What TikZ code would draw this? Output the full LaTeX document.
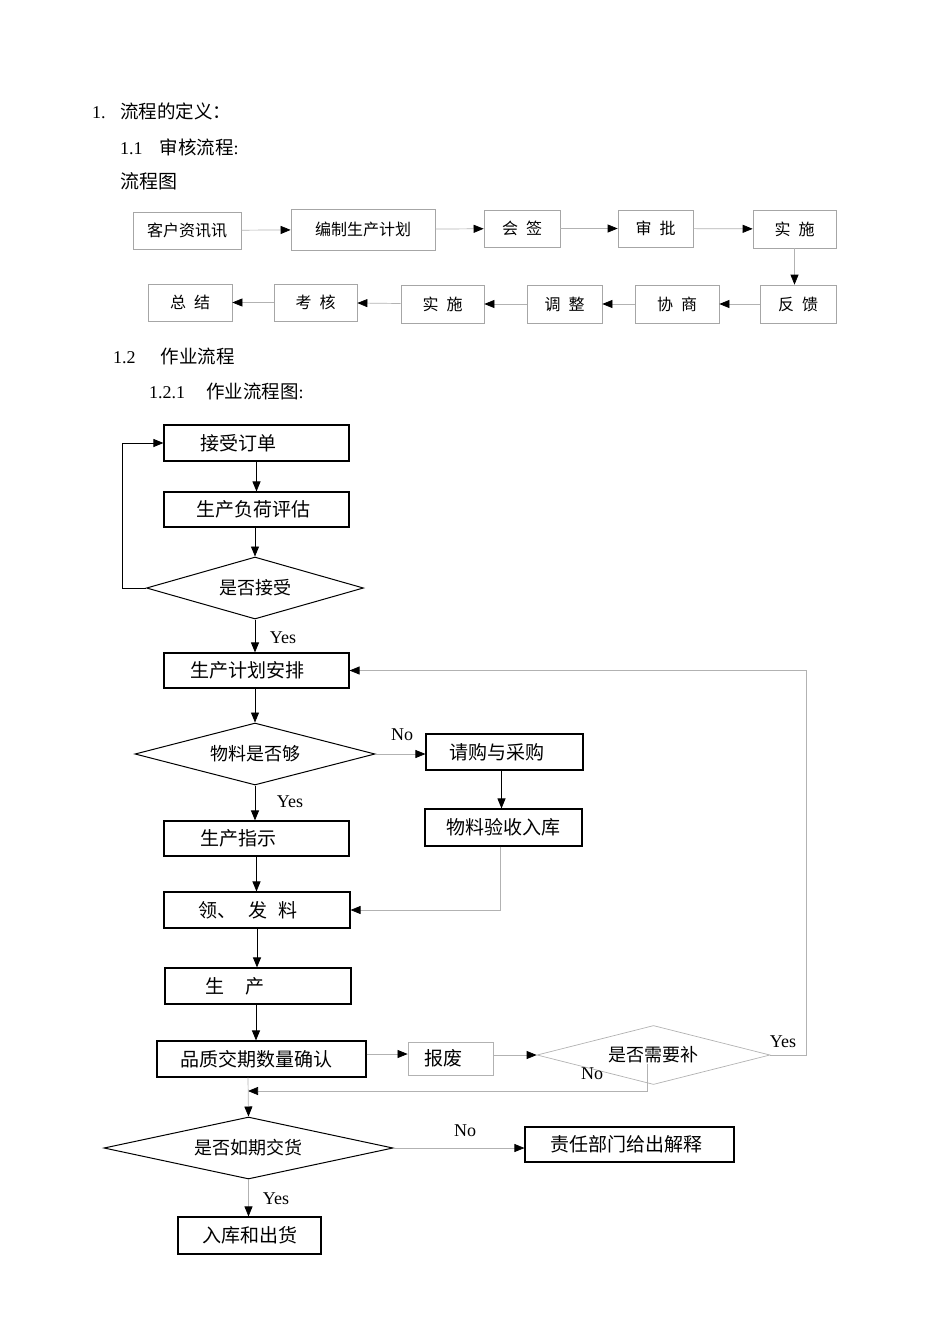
\documentclass[tikz,border=0pt]{standalone}
\usepackage{fontspec}
\setmainfont{Liberation Serif}
\newfontfamily\cjk{Noto Sans CJK SC}
\usepackage{tikz}
\usetikzlibrary{
	arrows.meta,shapes.geometric
}
\newcommand{\flowfont}[1]{\cjk\fontsize{#1}{#1}\selectfont}
\newcommand{\pad}[1]{\hbox to #1{}}
\tikzset{
	dims/.style 2 args={minimum width=#1,minimum height=#2},
	topbox/.style={draw=black!35,line width=0.7pt,inner sep=0pt,font={\flowfont{16}}},
	mainbox/.style={draw=black,line width=1.1pt,inner sep=0pt,font={\flowfont{19}}},
	scrapbox/.style={draw=black!30,line width=0.8pt,inner sep=0pt,font={\flowfont{19}}},
	choice/.style={diamond,aspect=3.4,draw=black,line width=1pt,inner sep=0pt,font={\flowfont{18}}},
	graychoice/.style={choice,draw=black!30,line width=0.7pt},
	blackline/.style={color=black,line width=0.9pt},
	grayline/.style={draw=black!30,line width=0.7pt},
	tip/.style={-{Triangle[length=10pt,width=8pt,color=black,fill=black]}},
	tag/.style={inner sep=0pt,font=\fontsize{18}{18}\selectfont},
	heading/.style={anchor=west,inner sep=0pt,font=\fontsize{18}{18}\selectfont}
}
\begin{document}
\begin{tikzpicture}[x=1pt,y=-1pt]
		\useasboundingbox (0,0) rectangle (950,1344);
		% headings
		\node[heading] (H1) at (92,111) {1.\hspace{14.5pt}{\flowfont{18.5}流程的定义：}};
		\node[heading] (H11) at (120,147) {1.1\hspace{17pt}{\flowfont{18.5}审核流程}:};
		\node[heading] (H11b) at (120,181) {{\flowfont{19}流程图}};
		\node[heading] (H12) at (113,356) {1.2\hspace{25pt}{\flowfont{18.5}作业流程}};
		\node[heading] (H121) at (149,391) {1.2.1\hspace{21pt}{\flowfont{18.5}作业流程图}:};
		%
		% review flow, first row
		\node[topbox,dims={108pt}{37pt}] (info) at (187,230.5) {客户资讯讯};
		\node[topbox,dims={144pt}{41pt}] (plan) at (363,229.5) {编制生产计划};
		\node[topbox,dims={76pt}{37pt}] (sign) at (522,228.5) {会\hspace{8pt}签};
		\node[topbox,dims={75pt}{37pt}] (approve) at (655.5,228.5) {审\hspace{8pt}批};
		\node[topbox,dims={83pt}{38pt}] (runA) at (794.5,229) {实\hspace{8pt}施};
		% review flow, second row
		\node[topbox,dims={76pt}{38pt}] (feedback) at (798,304) {反\hspace{8pt}馈};
		\node[topbox,dims={84pt}{38pt}] (consult) at (677,304) {协\hspace{8pt}商};
		\node[topbox,dims={75pt}{38pt}] (adjust) at (564.5,304) {调\hspace{8pt}整};
		\node[topbox,dims={83pt}{38pt}] (runB) at (442.5,304) {实\hspace{8pt}施};
		\node[topbox,dims={83pt}{37pt}] (assess) at (315.5,302.5) {考\hspace{8pt}核};
		\node[topbox,dims={84pt}{37pt}] (summary) at (190,302.5) {总\hspace{8pt}结};
		%
		\foreach \from/\to in {info/plan,plan/sign,sign/approve,approve/runA,
			feedback/consult,consult/adjust,adjust/runB,runB/assess,assess/summary}
			\draw[grayline,tip] (\from) -- (\to);
		\draw[grayline,tip] (runA.south) -- (runA.south |- feedback.north);
		%
		% work flow
		\node[mainbox,dims={185pt}{36pt}] (order) at (256.5,443) {接受订单\pad{36pt}};
		\node[mainbox,dims={185pt}{35pt}] (load) at (256.5,509.5) {生产负荷评估\pad{6pt}};
		\node[choice,dims={217pt}{62pt}] (accept) at (255,588) {是否接受};
		\node[mainbox,dims={185pt}{35pt}] (schedule) at (256.5,670.5) {生产计划安排\pad{19pt}};
		\node[choice,dims={240pt}{62pt}] (enough) at (255,754) {物料是否够};
		\node[mainbox,dims={157pt}{36pt}] (purchase) at (504.5,752) {请购与采购\pad{16pt}};
		\node[mainbox,dims={157pt}{37pt}] (inspect) at (503.5,827.5) {物料验收入库};
		\node[mainbox,dims={185pt}{35pt}] (instruct) at (256.5,838.5) {生产指示\pad{37pt}};
		\node[mainbox,dims={186pt}{36pt}] (issue) at (257,910) {领、\hspace{12pt}发\hspace{11pt}料\pad{18pt}};
		\node[mainbox,dims={186pt}{36pt}] (produce) at (258,986) {生\hspace{22pt}产\pad{46pt}};
		\node[mainbox,dims={209pt}{36pt}] (confirm) at (261.5,1059) {品质交期数量确认\pad{10pt}};
		\node[scrapbox,dims={85pt}{33pt}] (scrap) at (450.5,1058.5) {报废\pad{14pt}};
		\node[graychoice,dims={233pt}{59pt}] (refill) at (653.5,1055) {是否需要补};
		\node[choice,dims={289pt}{62pt}] (ontime) at (248.5,1148) {是否如期交货};
		\node[mainbox,dims={209pt}{35pt}] (explain) at (629.5,1144.5) {责任部门给出解释\pad{6pt}};
		\node[mainbox,dims={143pt}{37pt}] (stock) at (249.5,1235.5) {入库和出货};
		\coordinate (merge) at (248,1091);
		% branch labels
		\node[tag] (yesA) at (283,638) {Yes};
		\node[tag] (noB) at (402,735) {No};
		\node[tag] (yesB) at (290,802) {Yes};
		\node[tag] (yesC) at (783,1042) {Yes};
		\node[tag] (noC) at (592,1074) {No};
		\node[tag] (noD) at (465,1131) {No};
		\node[tag] (yesD) at (276,1199) {Yes};
		%
		\path[blackline,tip]
		% main line, downwards
		(order) edge (load)
		(accept.north |- load.south) edge (accept.north)
		(accept) edge (accept.south |- schedule.north)
		(enough.north |- schedule.south) edge (enough.north)
		(enough) edge (enough.south |- instruct.north)
		(instruct.south) edge (instruct.south |- issue.north)
		(issue.south) edge (issue.south |- produce.north)
		([xshift=-2pt]produce.south) edge ([xshift=-2pt]produce.south |- confirm.north)
		([xshift=-3pt]purchase.south) edge ([xshift=-3pt]purchase.south |- inspect.north);
		% back to the order
		\draw[blackline,tip] (accept.west) -- ++(-24,0) |- (order.west);
		%
		% grey connectors
		\draw[grayline,tip] (enough.east) -- (enough.east -| purchase.west);
		\draw[grayline,tip] ([xshift=-3pt]inspect.south) |- (issue.east);
		\draw[grayline,tip] ([yshift=5pt]confirm.east) -- ([yshift=5pt]confirm.east -| scrap.west);
		\draw[grayline,tip] (scrap.east |- refill.west) -- (refill.west);
		\draw[grayline,tip] (refill.east) -- ++(36,0) |- (schedule.east);
		\draw[grayline,tip] ([shift={(-6pt,-9pt)}]refill.center) |- (merge);
		\draw[grayline,tip] (merge |- confirm.south) -- (ontime.north);
		\draw[grayline,tip] (ontime.east) -- (ontime.east -| explain.west);
		\draw[grayline,tip] (ontime) -- (ontime.south |- stock.north);
	\end{tikzpicture}
\end{document}
